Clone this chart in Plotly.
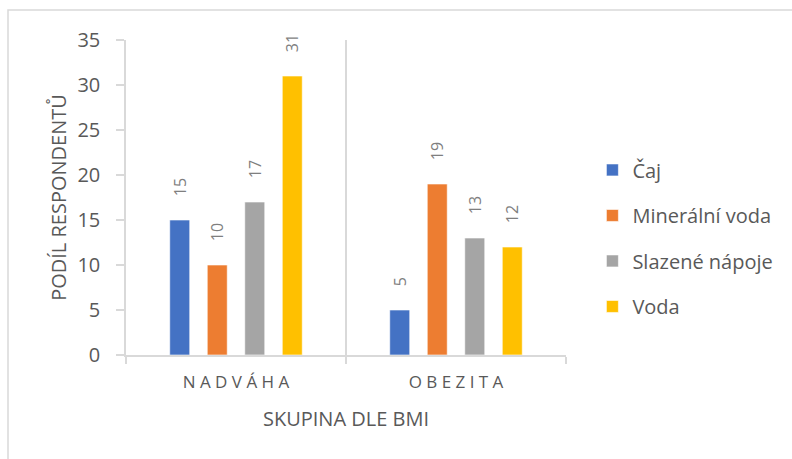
import plotly.graph_objects as go

categories = ["N A D V Á H A", "O B E Z I T A"]
series_names = ["Čaj", "Minerální voda", "Slazené nápoje", "Voda"]
caj = [15, 5]
mineralni_voda = [10, 19]
slazene_napoje = [17, 13]
voda = [31, 12]
colors = ["#4472C4", "#ED7D31", "#A5A5A5", "#FFC000"]

values = [caj, mineralni_voda, slazene_napoje, voda]

FONT = "Open Sans"
fig = go.Figure()
for i, (name, vals, col) in enumerate(zip(series_names, values, colors)):
    fig.add_trace(go.Bar(
        x=categories, y=vals, name=name,
        marker=dict(color=col, line=dict(color="white", width=0.6)),
        text=vals,
        texttemplate="\u00a0\u00a0\u00a0\u00a0\u00a0%{y}",
        textposition="outside",
        textangle=-90,
        constraintext="none",
        textfont=dict(family=FONT, size=16, color="#7F7F7F"),
        cliponaxis=False,
        legendgroup=f"g{i}",
    ))

fig.update_layout(
    width=792, height=459,
    margin=dict(l=126, r=226, t=40, b=104),
    paper_bgcolor="white", plot_bgcolor="white",
    barmode="group", bargap=0.318, bargroupgap=0.467,
    font=dict(family=FONT, color="#595959"),
    showlegend=True,
    legend=dict(
        x=1.06, xanchor="left", y=0.37, yanchor="middle",
        font=dict(family=FONT, size=20, color="#595959"),
        tracegroupgap=16.5, bgcolor="rgba(0,0,0,0)",
    ),
)

fig.update_xaxes(
    type="category", tickson="boundaries",
    showgrid=True, gridcolor="#D9D9D9", gridwidth=1.5,
    showline=True, linecolor="#D9D9D9", linewidth=1.5,
    ticks="outside", ticklen=7, tickcolor="#D9D9D9", tickwidth=1.5,
    tickfont=dict(family=FONT, size=17, color="#595959"),
    ticklabelstandoff=11,
    title=dict(text="SKUPINA DLE BMI", font=dict(family=FONT, size=20, color="#595959"), standoff=20),
    zeroline=False,
)
fig.update_yaxes(
    range=[0, 35], dtick=5, showgrid=False,
    showline=True, linecolor="#D9D9D9", linewidth=1.5,
    ticks="outside", ticklen=8, tickcolor="#D9D9D9", tickwidth=1.5,
    tickfont=dict(family=FONT, size=20, color="#595959"),
    ticklabelstandoff=12,
    title=dict(text="PODÍL RESPONDENTŮ", font=dict(family=FONT, size=20, color="#595959"), standoff=5),
    zeroline=False,
)

# outer chart border (light frame)
fig.add_shape(type="rect", xref="paper", yref="paper",
              x0=(8 - 126) / 440, x1=(800 - 126) / 440,
              y0=(355 - 470) / 315, y1=(355 - 10) / 315,
              line=dict(color="#D9D9D9", width=1.5), fillcolor="rgba(0,0,0,0)", layer="below")

fig.write_html("out.html")
